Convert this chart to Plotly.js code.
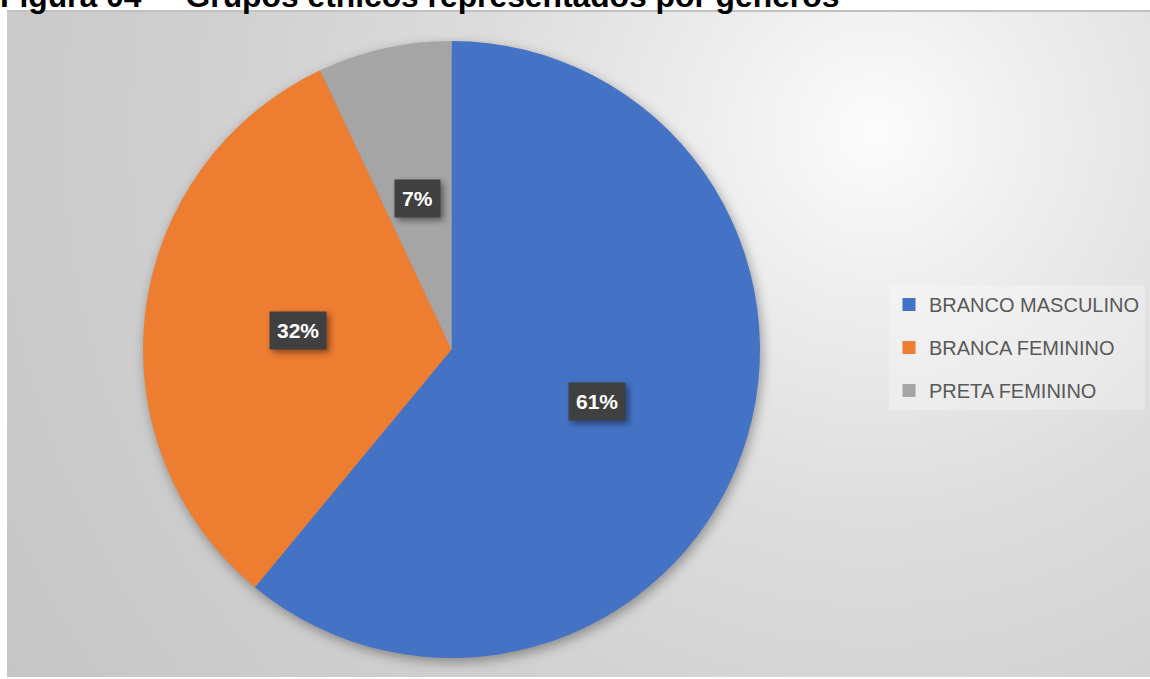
<!DOCTYPE html>
<html>
<head>
<meta charset="utf-8">
<script src="https://cdn.plot.ly/plotly-3.0.1.min.js"></script>
<style>
  html, body { margin: 0; padding: 0; background: #ffffff; }
  #wrap { position: relative; width: 1150px; height: 679px; overflow: hidden; background: #ffffff; }
  #bg {
    position: absolute; left: 7px; top: 10px; width: 1143px; height: 667px;
    border-top: 2px solid #c2c2c2;
    box-sizing: border-box;
    background: radial-gradient(circle farthest-corner at 76% 18%, #fcfcfc 0%, #eeeeee 16%, #dddddd 38%, #d0d0d0 65%, #c6c6c6 100%);
  }
  #chart { position: absolute; left: 0; top: 0; width: 1150px; height: 679px; }
  .pielayer .trace { filter: drop-shadow(2px 4px 6px rgba(0,0,0,0.35)); }
  .annotation rect.bg { filter: drop-shadow(3px 3px 3px rgba(0,0,0,0.45)); }
</style>
</head>
<body>
<div id="wrap">
  <div id="bg"></div>
  <div id="chart"></div>
</div>
<script>
// ---- data ----
const categories = ["BRANCO MASCULINO", "BRANCA FEMININO", "PRETA FEMININO"];
const values = [61, 32, 7];
const colors = ["#4472C4", "#ED7D31", "#A5A5A5"];
const titleText = "Figura 04 –  Grupos étnicos representados por gêneros";

// ---- geometry (pixels) ----
const W = 1150, H = 679;
const CX = 451.5, CY = 349.5, R = 308.5;   // pie centre / radius
const LABEL_R = 0.5;                         // label radius as fraction of R

const total = values.reduce((a, b) => a + b, 0);

const pie = {
  type: "pie",
  labels: categories,
  values: values,
  sort: false,
  direction: "clockwise",
  rotation: 0,
  marker: { colors: colors, line: { width: 0 } },
  textinfo: "none",
  hoverinfo: "label+percent",
  showlegend: false,
  domain: { x: [(CX - R) / W, (CX + R) / W], y: [(H - CY - R) / H, (H - CY + R) / H] }
};

// legend entries (one per category, grouped so they can be spaced)
const legendTraces = categories.map((c, i) => ({
  type: "scatter",
  mode: "markers",
  x: [null], y: [null],
  name: c,
  legendgroup: "g" + i,
  marker: { symbol: "square", size: 13, color: colors[i] },
  hoverinfo: "skip",
  showlegend: true
}));

// percentage labels placed from the data
let cum = 0;
const labelAnns = values.map((v, i) => {
  const mid = (cum + v / 2) / total;
  cum += v;
  const th = mid * 2 * Math.PI;
  const px = CX + LABEL_R * R * Math.sin(th);
  const py = CY - LABEL_R * R * Math.cos(th);
  return {
    xref: "paper", yref: "paper",
    x: px / W, y: 1 - py / H,
    xanchor: "center", yanchor: "middle",
    text: "<b>" + Math.round(v / total * 100) + "%</b>",
    showarrow: false,
    bgcolor: "#404040",
    borderpad: 7,
    font: { family: "Liberation Sans, Arial, sans-serif", size: 21, color: "#ffffff" }
  };
});

const titleAnn = {
  xref: "paper", yref: "paper",
  x: 0, y: 1 - 15 / H,
  xanchor: "left", yanchor: "bottom",
  xshift: -1,
  text: "<b>" + titleText + "</b>",
  showarrow: false,
  borderpad: 0,
  font: { family: "Liberation Sans, Arial, sans-serif", size: 31.8, color: "#000000" }
};

const layout = {
  width: W, height: H,
  margin: { l: 0, r: 0, t: 0, b: 0, pad: 0 },
  paper_bgcolor: "rgba(0,0,0,0)",
  plot_bgcolor: "rgba(0,0,0,0)",
  xaxis: { visible: false, showgrid: false, zeroline: false },
  yaxis: { visible: false, showgrid: false, zeroline: false },
  showlegend: true,
  legend: {
    x: 889 / W, y: 1 - 285 / H,
    xanchor: "left", yanchor: "top",
    bgcolor: "rgba(255,255,255,0.28)",
    borderwidth: 0,
    tracegroupgap: 14,
    traceorder: "grouped",
    font: { family: "Liberation Sans, Arial, sans-serif", size: 20, color: "#595959" }
  },
  annotations: [titleAnn].concat(labelAnns)
};

Plotly.newPlot("chart", [pie].concat(legendTraces), layout, { displayModeBar: false, staticPlot: true });
</script>
</body>
</html>
